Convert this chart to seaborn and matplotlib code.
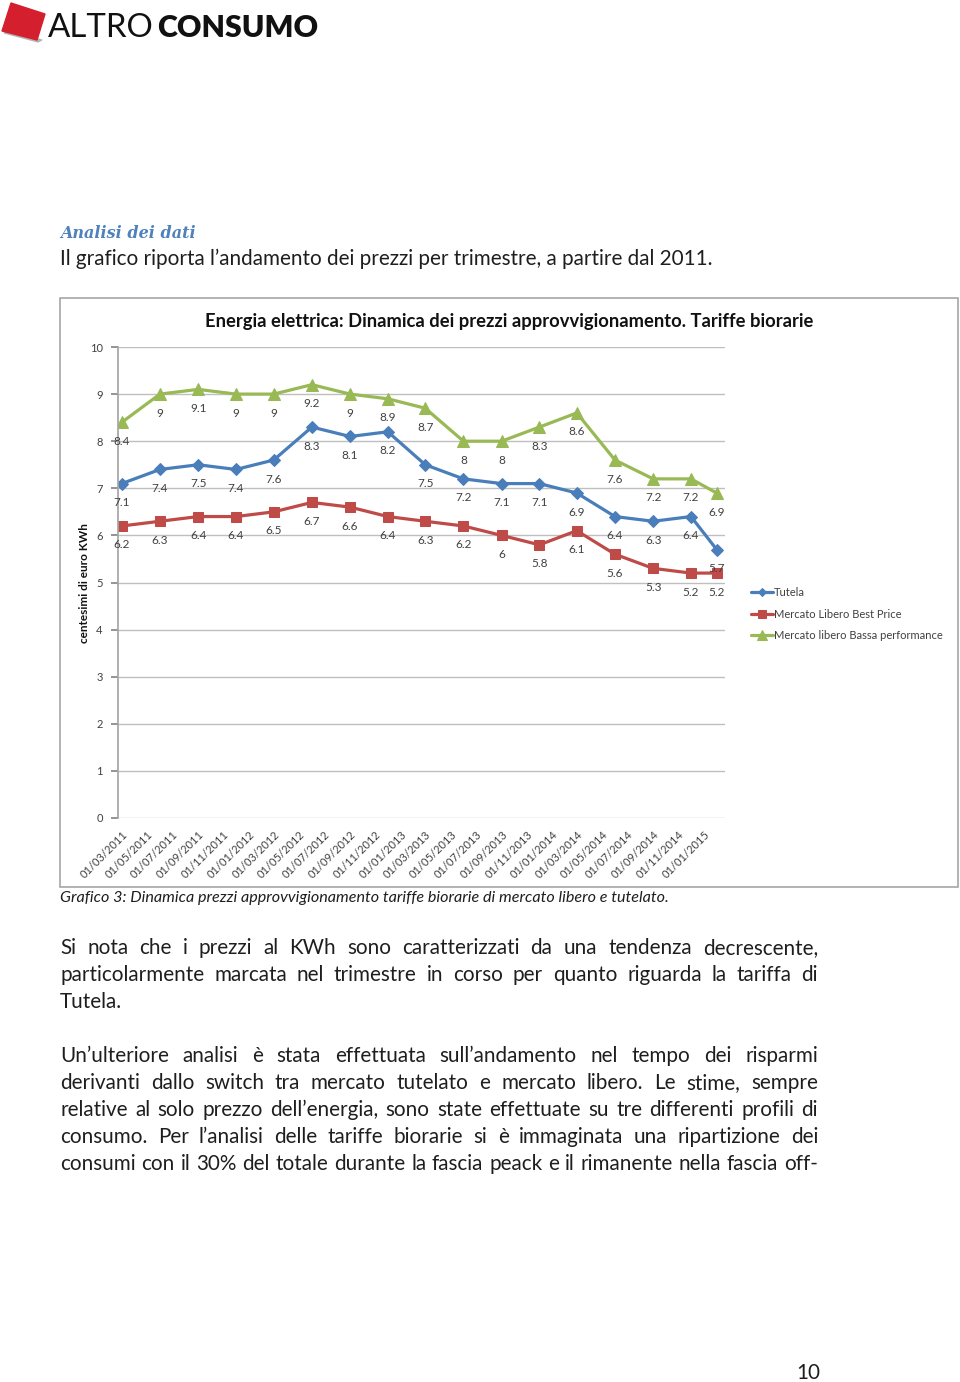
import pandas as pd
import seaborn as sns
import matplotlib.pyplot as plt
import matplotlib.dates as mdates
from matplotlib.patches import Polygon, Rectangle

sns.set_theme(style='white')
plt.rcParams['font.family'] = ['Lato', 'DejaVu Sans']

# quarterly supply prices, centesimi di euro per kWh
dates = ['01/03/2011', '01/06/2011', '01/09/2011', '01/12/2011', '01/03/2012', '01/06/2012',
         '01/09/2012', '01/12/2012', '01/03/2013', '01/06/2013', '01/09/2013', '01/12/2013',
         '01/03/2014', '01/06/2014', '01/09/2014', '01/12/2014', '01/02/2015']
tutela = [7.1, 7.4, 7.5, 7.4, 7.6, 8.3, 8.1, 8.2, 7.5, 7.2, 7.1, 7.1, 6.9, 6.4, 6.3, 6.4, 5.7]
best_price = [6.2, 6.3, 6.4, 6.4, 6.5, 6.7, 6.6, 6.4, 6.3, 6.2, 6.0, 5.8, 6.1, 5.6, 5.3, 5.2, 5.2]
bassa_perf = [8.4, 9.0, 9.1, 9.0, 9.0, 9.2, 9.0, 8.9, 8.7, 8.0, 8.0, 8.3, 8.6, 7.6, 7.2, 7.2, 6.9]

series_names = ['Tutela', 'Mercato Libero Best Price', 'Mercato libero Bassa performance']
series_colors = ['#4A7EBB', '#BE4B48', '#98B954']
series_markers = ['D', 's', '^']
series_msize = [6, 7.5, 9]

tick_labels = ['01/03/2011', '01/05/2011', '01/07/2011', '01/09/2011', '01/11/2011',
               '01/01/2012', '01/03/2012', '01/05/2012', '01/07/2012', '01/09/2012', '01/11/2012',
               '01/01/2013', '01/03/2013', '01/05/2013', '01/07/2013', '01/09/2013', '01/11/2013',
               '01/01/2014', '01/03/2014', '01/05/2014', '01/07/2014', '01/09/2014', '01/11/2014',
               '01/01/2015']

para1 = ['Si nota che i prezzi al KWh sono caratterizzati da una tendenza decrescente,',
         'particolarmente marcata nel trimestre in corso per quanto riguarda la tariffa di',
         'Tutela.']
para2 = ['Un\u2019ulteriore analisi è stata effettuata sull\u2019andamento nel tempo dei risparmi',
         'derivanti dallo switch tra mercato tutelato e mercato libero. Le stime, sempre',
         'relative al solo prezzo dell\u2019energia, sono state effettuate su tre differenti profili di',
         'consumo. Per l\u2019analisi delle tariffe biorarie si è immaginata una ripartizione dei',
         'consumi con il 30% del totale durante la fascia peack e il rimanente nella fascia off-']

df = pd.DataFrame({'data': pd.to_datetime(dates, format='%d/%m/%Y'),
                   series_names[0]: tutela,
                   series_names[1]: best_price,
                   series_names[2]: bassa_perf})

W, H = 960, 1382
fig = plt.figure(figsize=(W / 100, H / 100), dpi=100)
fig.patch.set_facecolor('white')


def fx(x):
    return x / W


def fy(y):
    return 1 - y / H


def fit(t, width):
    r = fig.canvas.get_renderer()
    w = t.get_window_extent(r).width
    t.set_fontsize(t.get_fontsize() * width / w)
    return t


body_col = '#1e1e1e'


def justify(y, line, x0, x1, size):
    words = line.split()
    pieces = [fig.text(0, fy(y), w, fontsize=size, va='center', color=body_col) for w in words]
    r = fig.canvas.get_renderer()
    widths = [t.get_window_extent(r).width for t in pieces]
    gap = (x1 - x0 - sum(widths)) / (len(pieces) - 1)
    x = x0
    for t, w in zip(pieces, widths):
        t.set_x(fx(x))
        x += w + gap


# logo
fig.add_artist(Polygon([(fx(4), fy(33)), (fx(38), fy(42)), (fx(42), fy(40)), (fx(8), fy(31))],
                       closed=True, transform=fig.transFigure, color='#9a9a9a', alpha=0.6))
fig.add_artist(Polygon([(fx(11), fy(3)), (fx(45), fy(14)), (fx(37), fy(40)), (fx(2), fy(31))],
                       closed=True, transform=fig.transFigure, color='#D31F2E'))
t = fig.text(fx(48), fy(28), 'ALTRO', fontsize=26, va='center', color='#111111', fontweight='normal')
fit(t, 106)
t = fig.text(fx(157), fy(28), 'CONSUMO', fontsize=26, va='center', color='#111111', fontweight='heavy')
fit(t, 161)

# heading and intro
t = fig.text(fx(60), fy(233), 'Analisi dei dati', fontsize=14, va='center', color='#4F81BD',
             family='DejaVu Serif', style='italic', fontweight='bold')
fit(t, 135)
intro = fig.text(fx(60), fy(259), 'Il grafico riporta l\u2019andamento dei prezzi per trimestre, a partire dal 2011.',
                 fontsize=13, va='center', color=body_col)
fit(intro, 648)
body_size = intro.get_fontsize()

# chart frame
fig.add_artist(Rectangle((fx(60), fy(887)), (958 - 60) / W, (887 - 298) / H, transform=fig.transFigure,
                         fill=False, edgecolor='#A6A6A6', lw=1.2))

t = fig.text(fx(509), fy(321), 'Energia elettrica: Dinamica dei prezzi approvvigionamento. Tariffe biorarie',
             fontsize=12, fontweight='bold', ha='center', va='center', color='#111111')
fit(t, 602)

ax = fig.add_axes([fx(118), fy(818), (725 - 118) / W, (818 - 347) / H])
for name, col, mk, ms in zip(series_names, series_colors, series_markers, series_msize):
    sns.lineplot(data=df, x='data', y=name, ax=ax, color=col, marker=mk, markersize=ms,
                 markeredgecolor=col, linewidth=2.3, label=name, legend=False)
    for d, v in zip(df['data'], df[name]):
        ax.annotate(f'{v:g}', (d, v), xytext=(0, -19), textcoords='offset pixels',
                    ha='center', va='center', fontsize=8.5, color='#404040')

ax.set_ylim(0, 10)
ax.set_yticks(range(0, 11))
ax.set_xlim(mdates.date2num(pd.Timestamp('2011-02-20')), mdates.date2num(pd.Timestamp('2015-02-21')))
ax.set_xticks(pd.to_datetime(tick_labels, format='%d/%m/%Y'))
ax.set_xticklabels(tick_labels, rotation=45, ha='right', rotation_mode='anchor', fontsize=8, color='#404040')
ax.tick_params(axis='x', length=0, pad=8)
ax.tick_params(axis='y', length=5, color='#868686', labelsize=8, labelcolor='#404040', pad=6, left=True)
ax.grid(axis='y', color='#BFBFBF', lw=1)
ax.grid(axis='x', visible=False)
ax.set_xlabel('')
ax.set_ylabel('')
for s in ['top', 'right', 'bottom']:
    ax.spines[s].set_visible(False)
ax.spines['left'].set_color('#A6A6A6')

fig.text(fx(84), fy(583), 'centesimi di euro KWh', rotation=90, fontsize=8.5, fontweight='bold',
         ha='center', va='center', color='#111111')

handles, labels = ax.get_legend_handles_labels()
fig.legend(handles, labels, loc='upper left', bbox_to_anchor=(fx(741), fy(577)), frameon=False,
           fontsize=8, labelcolor='#404040', handlelength=2.0, handletextpad=0.1, labelspacing=0.95,
           markerscale=0.75)

t = fig.text(fx(60), fy(898), 'Grafico 3: Dinamica prezzi approvvigionamento tariffe biorarie di mercato libero e tutelato.',
             fontsize=11, style='italic', va='center', color=body_col)
fit(t, 607)

# body text, justified
for i, line in enumerate(para1):
    y = 948 + 27 * i
    if i == len(para1) - 1:
        fig.text(fx(60), fy(y), line, fontsize=body_size, va='center', color=body_col)
    else:
        justify(y, line, 60, 818, body_size)
for i, line in enumerate(para2):
    justify(1056 + 27 * i, line, 60, 818, body_size)

fig.text(fx(808), fy(1373), '10', fontsize=body_size, ha='center', va='center', color=body_col)

fig.savefig('out.png', dpi=100, facecolor='white')
